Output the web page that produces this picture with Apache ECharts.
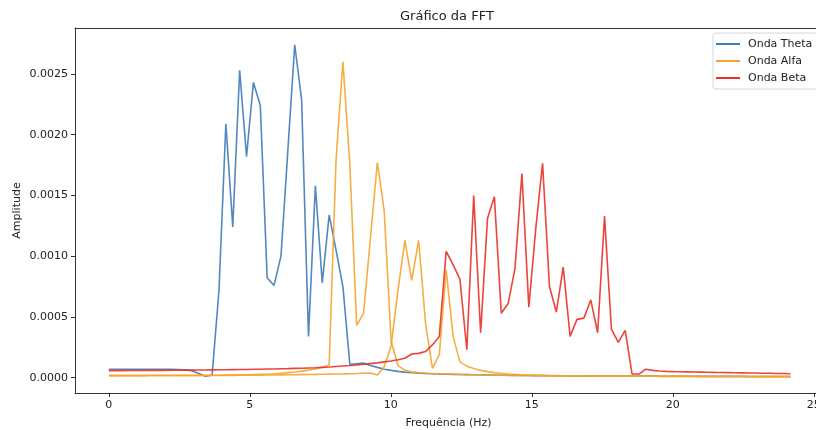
<!DOCTYPE html>
<html>
<head>
<meta charset="utf-8">
<script src="https://cdn.jsdelivr.net/npm/echarts@6/dist/echarts.min.js"></script>
<style>html,body{margin:0;padding:0;background:#fff}#c{width:816px;height:430px}</style>
</head>
<body>
<div id="c"></div>
<script>
// FFT bin frequencies (Hz)
const freqs = [0.000,0.244,0.488,0.732,0.977,1.221,1.465,1.709,1.953,2.197,2.441,2.686,2.930,3.174,3.418,3.662,3.906,4.150,4.395,4.639,4.883,5.127,5.371,5.615,5.859,6.104,6.348,6.592,6.836,7.080,7.324,7.568,7.813,8.057,8.301,8.545,8.789,9.033,9.277,9.521,9.766,10.010,10.254,10.498,10.742,10.986,11.230,11.475,11.719,11.963,12.207,12.451,12.695,12.939,13.184,13.428,13.672,13.916,14.160,14.404,14.648,14.893,15.137,15.381,15.625,15.869,16.113,16.357,16.602,16.846,17.090,17.334,17.578,17.822,18.066,18.311,18.555,18.799,19.043,19.287,19.531,19.775,20.020,20.264,20.508,20.752,20.996,21.240,21.484,21.729,21.973,22.217,22.461,22.705,22.949,23.193,23.438,23.682,23.926,24.170];

const theta = [0.000070,0.000070,0.000070,0.000070,0.000070,0.000070,0.000070,0.000070,0.000070,0.000069,0.000068,0.000065,0.000058,0.000036,0.000012,0.000020,0.00072,0.00209,0.00124,0.00253,0.00182,0.00243,0.00224,0.00082,0.00076,0.00100,0.00187,0.00274,0.00229,0.00034,0.00158,0.00078,0.00134,0.00105,0.00075,0.00011,0.000115,0.000120,0.000100,0.000085,0.000070,0.000060,0.000052,0.000046,0.000041,0.000037,0.000034,0.000032,0.000030,0.000028,0.000027,0.000026,0.000025,0.000024,0.000023,0.000022,0.000021,0.000020,0.000020,0.000019,0.000018,0.000018,0.000017,0.000017,0.000016,0.000016,0.000016,0.000015,0.000015,0.000015,0.000015,0.000014,0.000014,0.000014,0.000014,0.000013,0.000013,0.000013,0.000013,0.000013,0.000012,0.000012,0.000012,0.000012,0.000012,0.000012,0.000011,0.000011,0.000011,0.000011,0.000011,0.000011,0.000011,0.000010,0.000010,0.000010,0.000010,0.000010,0.000010,0.000010];

const alfaA = [0.000020,0.000020,0.000020,0.000020,0.000020,0.000020,0.000020,0.000020,0.000020,0.000020,0.000020,0.000020,0.000020,0.000020,0.000020,0.000020,0.000020,0.000021,0.000022,0.000023,0.000024,0.000026,0.000028,0.000030,0.000033,0.000037,0.000042,0.000047,0.000054,0.000062,0.000072,0.000086,0.000105,0.00179,0.00260,0.00176,0.00043,0.00053,0.00115,0.00177,0.00137,0.00030,0.00010,0.000060,0.000048,0.000042,0.000038,0.000035,0.000032,0.000030,0.000028,0.000026,0.000025,0.000024,0.000023,0.000022,0.000021,0.000020,0.000019,0.000018,0.000018,0.000017,0.000017,0.000016,0.000016,0.000015,0.000015,0.000015,0.000014,0.000014,0.000014,0.000013,0.000013,0.000013,0.000013,0.000012,0.000012,0.000012,0.000012,0.000012,0.000011,0.000011,0.000011,0.000011,0.000011,0.000011,0.000010,0.000010,0.000010,0.000010,0.000010,0.000010,0.000010,0.000010,0.000009,0.000009,0.000009,0.000009,0.000009,0.000009];

const alfaB = [0.000015,0.000015,0.000015,0.000015,0.000015,0.000015,0.000016,0.000016,0.000016,0.000016,0.000017,0.000017,0.000017,0.000017,0.000018,0.000018,0.000018,0.000019,0.000019,0.000020,0.000020,0.000021,0.000021,0.000022,0.000022,0.000023,0.000024,0.000024,0.000025,0.000026,0.000027,0.000028,0.000029,0.000030,0.000031,0.000033,0.000034,0.000036,0.000038,0.000022,0.000090,0.00026,0.00072,0.00113,0.00080,0.00113,0.00045,0.000077,0.00019,0.00089,0.00034,0.00013,0.000095,0.000075,0.000060,0.000050,0.000042,0.000036,0.000031,0.000027,0.000024,0.000022,0.000020,0.000019,0.000018,0.000017,0.000016,0.000016,0.000015,0.000015,0.000014,0.000014,0.000014,0.000013,0.000013,0.000013,0.000013,0.000012,0.000012,0.000012,0.000012,0.000011,0.000011,0.000011,0.000011,0.000011,0.000010,0.000010,0.000010,0.000010,0.000010,0.000010,0.000010,0.000009,0.000009,0.000009,0.000009,0.000009,0.000009,0.000009];

const beta = [0.000058,0.000058,0.000058,0.000059,0.000059,0.000059,0.000060,0.000060,0.000060,0.000061,0.000061,0.000062,0.000062,0.000063,0.000063,0.000064,0.000065,0.000065,0.000066,0.000067,0.000068,0.000069,0.000070,0.000071,0.000072,0.000074,0.000075,0.000077,0.000078,0.000080,0.000082,0.000085,0.000088,0.000092,0.000096,0.000100,0.000105,0.000110,0.000116,0.000122,0.000130,0.000138,0.000148,0.000160,0.000195,0.000200,0.000215,0.000270,0.000340,0.00104,0.00093,0.00081,0.00023,0.00150,0.00037,0.00131,0.00149,0.00053,0.00061,0.00090,0.00168,0.00058,0.00122,0.001765,0.00075,0.00054,0.00091,0.00034,0.00048,0.00049,0.00064,0.00037,0.00133,0.00040,0.00029,0.00039,0.000030,0.000030,0.000070,0.000060,0.000055,0.000052,0.000050,0.000049,0.000048,0.000047,0.000046,0.000045,0.000044,0.000043,0.000042,0.000041,0.000040,0.000039,0.000038,0.000037,0.000036,0.000035,0.000034,0.000032];

const xTicks = [0, 5, 10, 15, 20, 25];
const yTicks = [0, 0.0005, 0.0010, 0.0015, 0.0020, 0.0025];
const seriesNames = ['Onda Theta', 'Onda Alfa', 'Onda Beta'];

const pair = (ys) => freqs.map((f, i) => [f, ys[i]]);
const FONT = 'DejaVu Sans';
const colors = ['#3f7bb6', '#f5a52e', '#ea2f26'];
const X_MIN = -1.2, X_MAX = 25.29, Y_MIN = -0.000126, Y_MAX = 0.002878;

const chart = echarts.init(document.getElementById('c'), null, {renderer: 'canvas'});
const lineSeries = (name, ys, color, z) => ({
  name: name, type: 'line', data: pair(ys), showSymbol: false, symbol: 'none',
  xAxisIndex: 0, yAxisIndex: 0,
  z: z, lineStyle: {color: color, width: 1.6, opacity: 0.9}, itemStyle: {color: color},
  emphasis: {disabled: true}, animation: false
});
const axisLineStyle = {show: true, onZero: false, lineStyle: {color: '#333', width: 1}};
chart.setOption({
  animation: false,
  title: {
    text: 'Gráfico da FFT', left: 400, top: 10, padding: 0,
    textStyle: {fontFamily: FONT, fontSize: 13, fontWeight: 'normal', color: '#222'}
  },
  grid: {left: 75, top: 28, width: 747, height: 365, show: false, containLabel: false, outerBoundsMode: 'none'},
  legend: {
    data: seriesNames, left: 713, top: 33, orient: 'vertical',
    padding: [5, 30, 5, 3], itemGap: 5, itemWidth: 24, itemHeight: 2, icon: 'rect',
    borderColor: '#d6d6d6', borderWidth: 1, borderRadius: 3, backgroundColor: 'rgba(255,255,255,0.85)',
    textStyle: {fontFamily: FONT, fontSize: 11, color: '#222', lineHeight: 12, padding: [0, 0, 0, 3]}
  },
  xAxis: [{
    type: 'value', min: X_MIN, max: X_MAX, position: 'bottom',
    name: 'Frequência (Hz)', nameLocation: 'middle', nameGap: 25, nameMoveOverlap: false,
    nameTextStyle: {fontFamily: FONT, fontSize: 11, color: '#222'},
    axisLine: axisLineStyle, splitLine: {show: false},
    axisTick: {show: true, length: 4, inside: false, lineStyle: {color: '#333'}, customValues: xTicks},
    axisLabel: {fontFamily: FONT, fontSize: 11, color: '#222', margin: 7, customValues: xTicks, formatter: v => String(v)}
  }, {
    type: 'value', min: X_MIN, max: X_MAX, position: 'top',
    axisLine: axisLineStyle, axisTick: {show: false}, axisLabel: {show: false}, splitLine: {show: false}
  }],
  yAxis: {
    type: 'value', min: Y_MIN, max: Y_MAX, position: 'left',
    name: 'Amplitude', nameLocation: 'middle', nameRotate: 90, nameGap: 52, nameMoveOverlap: false,
    nameTextStyle: {fontFamily: FONT, fontSize: 11, color: '#222'},
    axisLine: axisLineStyle, splitLine: {show: false},
    axisTick: {show: true, length: 4, inside: false, lineStyle: {color: '#333'}, customValues: yTicks},
    axisLabel: {fontFamily: FONT, fontSize: 11, color: '#222', margin: 7, customValues: yTicks, formatter: v => v.toFixed(4)}
  },
  series: [
    lineSeries(seriesNames[0], theta, colors[0], 2),
    lineSeries(seriesNames[1], alfaA, colors[1], 3),
    lineSeries(seriesNames[1], alfaB, colors[1], 3),
    lineSeries(seriesNames[2], beta, colors[2], 4)
  ]
});
</script>
</body>
</html>
